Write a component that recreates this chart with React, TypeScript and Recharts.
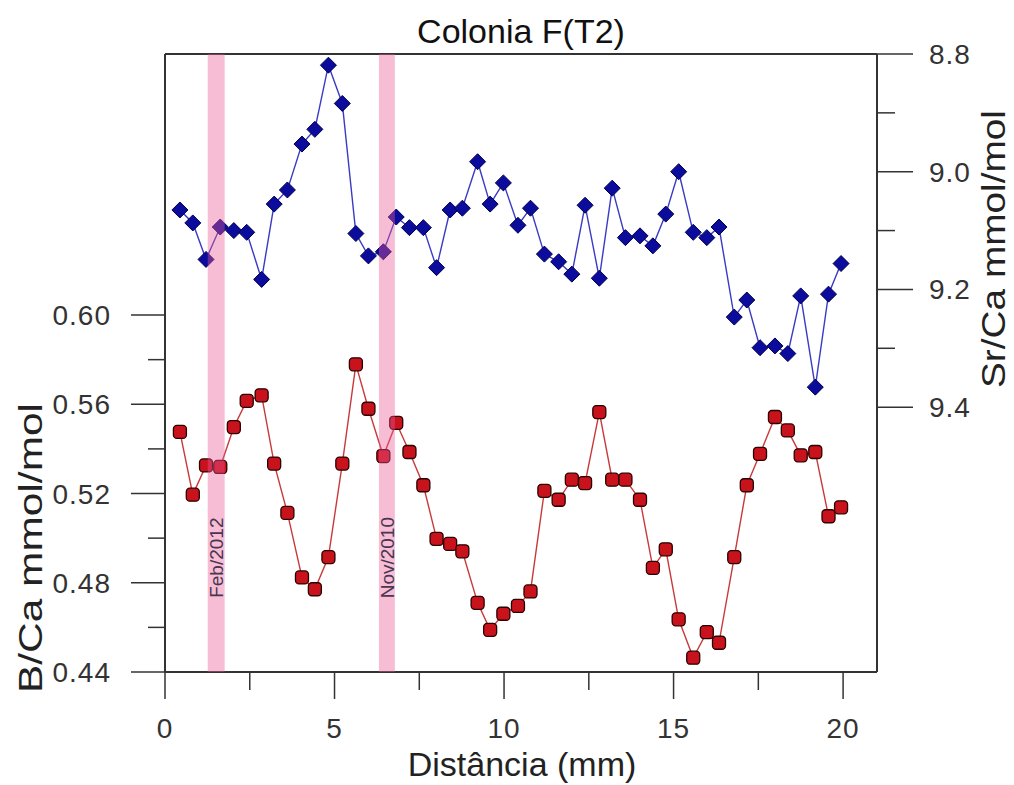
import React from 'react';
import {ComposedChart, Line, XAxis, YAxis, ReferenceArea, ReferenceLine, Label} from 'recharts';

// distance along the colony (mm)
const DIST = [
  0.44, 0.82, 1.21, 1.63, 2.03, 2.41, 2.85, 3.22, 3.61, 4.04,
  4.42, 4.82, 5.23, 5.63, 6.0, 6.44, 6.82, 7.21, 7.62, 8.01,
  8.41, 8.77, 9.22, 9.59, 9.98, 10.41, 10.78, 11.19, 11.61, 12.0,
  12.39, 12.81, 13.19, 13.58, 14.01, 14.39, 14.77, 15.15, 15.58, 15.98,
  16.34, 16.79, 17.16, 17.55, 17.99, 18.37, 18.75, 19.18, 19.57, 19.94,
];

const B_CA = [
  0.5476, 0.5195, 0.5326, 0.5319, 0.5498, 0.5615, 0.564, 0.5334, 0.5113, 0.4824,
  0.4771, 0.4915, 0.5334, 0.5779, 0.558, 0.5368, 0.5517, 0.5386, 0.5237, 0.4997,
  0.4974, 0.4941, 0.471, 0.4589, 0.4661, 0.4696, 0.4761, 0.5212, 0.5172, 0.5262,
  0.5247, 0.5565, 0.5262, 0.5262, 0.5172, 0.4867, 0.495, 0.4636, 0.4464, 0.4579,
  0.4531, 0.4915, 0.5237, 0.5378, 0.5543, 0.5483, 0.5371, 0.5386, 0.5098, 0.5138,
];

const SR_CA = [
  9.065, 9.087, 9.149, 9.094, 9.1, 9.103, 9.183, 9.055, 9.031, 8.953,
  8.928, 8.819, 8.884, 9.105, 9.143, 9.136, 9.077, 9.095, 9.095, 9.163,
  9.065, 9.062, 8.983, 9.055, 9.019, 9.091, 9.062, 9.14, 9.153, 9.174,
  9.057, 9.181, 9.028, 9.112, 9.109, 9.126, 9.072, 9.0, 9.103, 9.112,
  9.094, 9.247, 9.218, 9.299, 9.296, 9.309, 9.211, 9.366, 9.208, 9.156,
];

const X_TICKS = [0, 2.5, 5, 7.5, 10, 12.5, 15, 17.5, 20];
const X_MAJOR = [0, 5, 10, 15, 20];
const LEFT_TICKS = [0.44, 0.46, 0.48, 0.5, 0.52, 0.54, 0.56, 0.58, 0.6];
const LEFT_MAJOR = [0.44, 0.48, 0.52, 0.56, 0.6];
const RIGHT_TICKS = [8.8, 8.9, 9.0, 9.1, 9.2, 9.3, 9.4];
const RIGHT_MAJOR = [8.8, 9.0, 9.2, 9.4];

const BANDS = [
  {from: 1.26, to: 1.76, label: 'Feb/2012'},
  {from: 6.31, to: 6.78, label: 'Nov/2010'},
];

const FONT = '"Liberation Sans", Arial, sans-serif';
const AXIS = '#333';

const data = DIST.map((d, i) => ({x: d, bca: B_CA[i], srca: SR_CA[i]}));

const isIn = (list: number[], v: number) => list.some(m => Math.abs(m - v) < 1e-6);

const LeftTick = (props: any) => {
  const {x, y, payload} = props;
  const major = isIn(LEFT_MAJOR, payload.value);
  return (
    <g>
      <line x1={x - (major ? 34 : 17)} x2={x} y1={y} y2={y} stroke={AXIS} strokeWidth={1.5} />
      {major && (
        <text x={x - 54} y={y} dy={10} textAnchor="end" fontSize={28} fontFamily={FONT} fill="#333" letterSpacing={1}>
          {payload.value.toFixed(2)}
        </text>
      )}
    </g>
  );
};

const RightTick = (props: any) => {
  const {x, y, payload} = props;
  const major = isIn(RIGHT_MAJOR, payload.value);
  return (
    <g>
      <line x1={x} x2={x + (major ? 36 : 18)} y1={y} y2={y} stroke={AXIS} strokeWidth={1.5} />
      {major && (
        <text x={x + 52} y={y} dy={10} textAnchor="start" fontSize={28} fontFamily={FONT} fill="#333" letterSpacing={1}>
          {payload.value.toFixed(1)}
        </text>
      )}
    </g>
  );
};

const BottomTick = (props: any) => {
  const {x, y, payload} = props;
  const major = isIn(X_MAJOR, payload.value);
  return (
    <g>
      <line x1={x} x2={x} y1={y} y2={y + (major ? 27 : 18)} stroke={AXIS} strokeWidth={1.5} />
      {major && (
        <text x={x} y={y + 66} textAnchor="middle" fontSize={28} fontFamily={FONT} fill="#333" letterSpacing={1}>
          {payload.value}
        </text>
      )}
    </g>
  );
};

const Diamond = (props: any) => {
  const {cx, cy} = props;
  if (cx == null || cy == null) return null;
  const r = 8;
  return (
    <path
      d={`M${cx},${cy - r} L${cx + r},${cy} L${cx},${cy + r} L${cx - r},${cy} Z`}
      fill="#0c0c9c"
      stroke="#000050"
      strokeWidth={1}
    />
  );
};

const RoundSquare = (props: any) => {
  const {cx, cy} = props;
  if (cx == null || cy == null) return null;
  return (
    <rect x={cx - 6.5} y={cy - 6.5} width={13} height={13} rx={3.5} fill="#c8121c" stroke="#2a0000" strokeWidth={1.3} />
  );
};

const bandLabel = (text: string) => (props: any) => {
  const vb = props.viewBox;
  if (!vb) return null;
  const cx = vb.x + vb.width / 2;
  const cy = vb.y + vb.height * 0.815;
  return (
    <text
      transform={`translate(${cx},${cy}) rotate(-90)`}
      textAnchor="middle"
      dy={7}
      fontSize={19}
      fontFamily={FONT}
      fill="#4a3552"
    >
      {text}
    </text>
  );
};

export default function App() {
  return (
    <div style={{position: 'absolute', left: 0, top: 0, width: 1014, height: 785, background: '#fff'}}>
      <ComposedChart width={1014} height={785} data={data} margin={{top: 54, right: 77, bottom: 53, left: 105}}>
        <XAxis
          type="number"
          dataKey="x"
          domain={[0, 21]}
          ticks={X_TICKS}
          height={60}
          tickSize={0}
          tickMargin={0}
          tick={<BottomTick />}
          axisLine={{stroke: AXIS, strokeWidth: 2}}
          tickLine={false}
          interval={0}
          allowDataOverflow
        />
        <YAxis
          yAxisId="left"
          domain={[0.44, 0.717]}
          ticks={LEFT_TICKS}
          width={60}
          tickSize={0}
          tickMargin={0}
          tick={<LeftTick />}
          axisLine={{stroke: AXIS, strokeWidth: 2}}
          tickLine={false}
          interval={0}
          allowDataOverflow
        />
        <YAxis
          yAxisId="right"
          orientation="right"
          reversed
          domain={[8.8, 9.85]}
          ticks={RIGHT_TICKS}
          width={60}
          tickSize={0}
          tickMargin={0}
          tick={<RightTick />}
          axisLine={{stroke: AXIS, strokeWidth: 2}}
          tickLine={false}
          interval={0}
          allowDataOverflow
        />
        <ReferenceLine yAxisId="right" y={8.8} stroke={AXIS} strokeWidth={2} />
        <Line
          yAxisId="right"
          dataKey="srca"
          type="linear"
          stroke="#3a3ac4"
          strokeWidth={1.4}
          dot={(p: any) => <Diamond key={`d-${p.index}`} {...p} />}
          isAnimationActive={false}
        />
        <Line
          yAxisId="left"
          dataKey="bca"
          type="linear"
          stroke="#c83a3a"
          strokeWidth={1.4}
          dot={(p: any) => <RoundSquare key={`s-${p.index}`} {...p} />}
          isAnimationActive={false}
        />
        {BANDS.map(b => (
          <ReferenceArea
            key={b.label}
            yAxisId="left"
            x1={b.from}
            x2={b.to}
            fill="#eb5a96"
            fillOpacity={0.4}
            stroke="none"
            zIndex={1000}
            label={<Label content={bandLabel(b.label)} />}
          />
        ))}
      </ComposedChart>
      <svg width={1014} height={785} style={{position: 'absolute', left: 0, top: 0, pointerEvents: 'none'}}>
        <text x={521} y={43} textAnchor="middle" fontSize={34} fontFamily={FONT} fill="#111">
          Colonia F(T2)
        </text>
        <text x={522} y={776} textAnchor="middle" fontSize={34} fontFamily={FONT} fill="#222">
          Distância (mm)
        </text>
        <text
          transform="translate(42,548) rotate(-90)"
          textAnchor="middle"
          fontSize={34}
          fontFamily={FONT}
          fill="#222"
          textLength={290}
          lengthAdjust="spacingAndGlyphs"
        >
          B/Ca mmol/mol
        </text>
        <text
          transform="translate(1005,249) rotate(-90)"
          textAnchor="middle"
          fontSize={34}
          fontFamily={FONT}
          fill="#222"
          textLength={278}
          lengthAdjust="spacingAndGlyphs"
        >
          Sr/Ca mmol/mol
        </text>
      </svg>
    </div>
  );
}
